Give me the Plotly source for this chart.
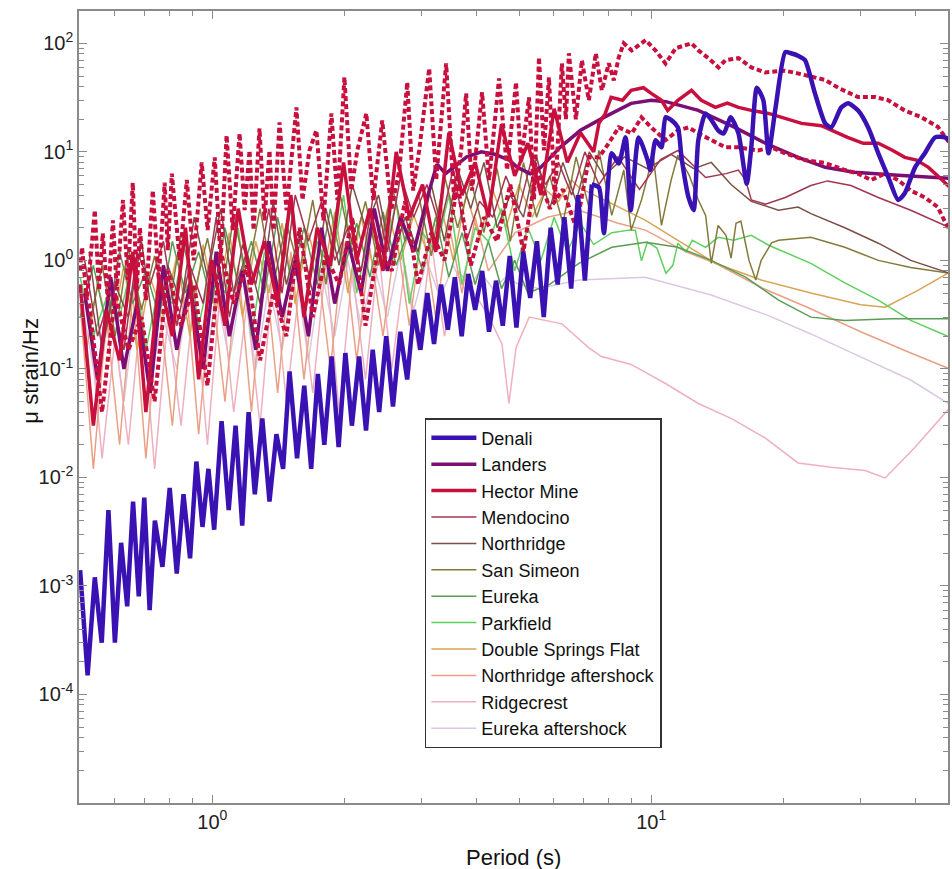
import plotly.graph_objects as go

# ---------------------------------------------------------------------------
# Period grids (s) used for the densely sampled short-period part of the spectra
GRID_1 = [0.500, 0.536, 0.574, 0.615, 0.659, 0.706, 0.757, 0.811, 0.869, 0.931,
          0.998, 1.069, 1.146, 1.228, 1.315, 1.409, 1.510, 1.618, 1.734, 1.858,
          1.991, 2.133, 2.286, 2.449, 2.624, 2.812, 3.013, 3.228, 3.459, 3.706,
          3.971, 4.255, 4.559, 4.885, 5.234, 5.608, 6.009, 6.438, 6.899, 7.392]
GRID_2 = [0.512, 0.548, 0.587, 0.629, 0.674, 0.722, 0.774, 0.830, 0.889, 0.953,
          1.021, 1.094, 1.172, 1.256, 1.346, 1.442, 1.545, 1.656, 1.774, 1.901,
          2.037, 2.183, 2.339, 2.506, 2.685, 2.877, 3.083, 3.303, 3.539, 3.792,
          4.063, 4.354, 4.665, 4.999, 5.356, 5.739, 6.149, 6.588, 7.059]
GRID_3 = [0.524, 0.561, 0.601, 0.644, 0.690, 0.739, 0.792, 0.849, 0.910, 0.975,
          1.045, 1.119, 1.199, 1.285, 1.377, 1.475, 1.581, 1.694, 1.815, 1.945,
          2.084, 2.234, 2.393, 2.564, 2.748, 2.944, 3.155, 3.380, 3.622, 3.881,
          4.158, 4.455, 4.774, 5.115, 5.481, 5.872, 6.292, 6.742, 7.224]

# ---------------------------------------------------------------------------
# Denali
DENALI_SHORT_P = [0.50, 0.52, 0.54, 0.56, 0.58, 0.60, 0.62, 0.64, 0.66, 0.68,
                  0.70, 0.72, 0.74, 0.77, 0.80, 0.83, 0.86, 0.89, 0.92, 0.95,
                  0.98, 1.01, 1.05, 1.09, 1.13, 1.17, 1.21, 1.25, 1.30, 1.35,
                  1.40, 1.45, 1.50, 1.56, 1.62, 1.68, 1.74, 1.80, 1.87, 1.94,
                  2.01, 2.08, 2.16, 2.24, 2.32, 2.40, 2.49, 2.58, 2.68, 2.78,
                  2.88, 2.98, 3.09, 3.20, 3.32, 3.44, 3.57, 3.70, 3.83, 3.97,
                  4.12, 4.27, 4.43, 4.59, 4.76, 4.93, 5.11, 5.30, 5.49, 5.69,
                  5.90, 6.12, 6.34, 6.57, 6.81, 7.06, 7.32]
DENALI_SHORT_V = [1.4e-3, 1.5e-4, 1.2e-3, 3.0e-4, 5.0e-3, 3.0e-4, 2.5e-3, 6.5e-4, 6.0e-3, 8.0e-4,
                  6.5e-3, 6.0e-4, 4.0e-3, 1.5e-3, 8.0e-3, 1.3e-3, 7.0e-3, 1.8e-3, 1.4e-2, 3.5e-3,
                  1.2e-2, 3.3e-3, 3.3e-2, 5.0e-3, 3.0e-2, 3.6e-3, 4.0e-2, 7.0e-3, 3.5e-2, 6.0e-3,
                  2.5e-2, 1.2e-2, 9.5e-2, 1.5e-2, 7.0e-2, 1.2e-2, 9.0e-2, 2.0e-2, 1.3e-1, 1.9e-2,
                  1.4e-1, 3.0e-2, 1.3e-1, 2.7e-2, 1.5e-1, 4.0e-2, 2.0e-1, 4.5e-2, 2.2e-1, 8.0e-2,
                  3.5e-1, 1.5e-1, 5.0e-1, 1.7e-1, 6.0e-1, 2.3e-1, 7.0e-1, 2.0e-1, 7.5e-1, 3.5e-1,
                  8.0e-1, 2.2e-1, 6.5e-1, 2.5e-1, 1.1, 2.4e-1, 1.2, 4.5e-1, 1.5, 3.0e-1,
                  2.0, 6.0e-1, 2.5, 5.5e-1, 4.0, 6.5e-1, 5.0]
DENALI_LONG_P = [7.6, 7.8, 8.13, 8.43, 8.74, 8.98, 9.36, 9.81, 9.95, 10.23,
                 10.55, 10.78, 11.13, 11.5, 11.72, 12.16, 12.49, 12.8, 13.3, 13.73,
                 14.2, 14.63, 15.17, 15.8, 16.5, 16.9, 17.4, 18.0, 18.5, 19.2,
                 20.2, 20.8, 21.6, 22.4, 23.6, 24.9, 25.7, 27.1, 28.1, 29.6,
                 31.2, 32.9, 34.7, 36.5, 37.8, 39.9, 42.0, 44.3, 46.7, 47.9]
DENALI_LONG_V = [4.7, 1.78, 9.7, 7.8, 13.6, 2.9, 13.6, 8.4, 6.8, 12.8,
                 11.0, 20.8, 19.5, 16.8, 8.9, 3.8, 2.9, 12.8, 22.6, 19.5,
                 15.8, 14.8, 20.8, 14.8, 5.1, 11.0, 39.0, 30.0, 9.7, 25.7,
                 83.0, 81.0, 77.0, 70.0, 34.6, 18.3, 16.8, 25.7, 28.0, 24.0,
                 16.8, 9.7, 5.8, 3.6, 4.15, 7.2, 9.7, 13.6, 13.6, 12.8]

# Landers
LANDERS_SHORT_V = [0.5, 0.08, 0.7, 0.1, 0.4, 0.06, 0.9, 0.15, 0.6, 0.1,
                   1.2, 0.2, 0.8, 0.15, 1.5, 0.3, 1.0, 0.2, 2.0, 0.4,
                   1.5, 0.5, 3.0, 0.8, 2.5, 1.2]
LANDERS_LONG_P = [3.1, 3.25, 3.4, 3.55, 3.8, 4.1, 4.4, 4.75, 4.95, 5.3, 5.6, 6.2, 6.9,
                  7.8, 9.0, 10.0, 10.8, 12.8, 15.5, 18.2, 21.6, 24.9, 29.0, 36.5, 47.9]
LANDERS_LONG_V = [4.0, 7.7, 6.3, 7.2, 9.0, 10.0, 9.5, 8.4, 7.2, 6.3, 7.2, 11.0, 15.8,
                  20.8, 28.0, 29.9, 29.0, 24.1, 16.8, 12.0, 8.9, 7.2, 6.5, 6.1, 5.7]

# Hector Mine (solid) and its upper / lower dotted bounds
HECTOR_SHORT_V = [0.6, 0.03, 0.35, 0.12, 1.2, 0.04, 0.7, 0.2, 2.0, 0.08,
                  1.0, 0.25, 3.0, 0.6, 1.5, 0.4, 4.0, 0.3, 2.0, 0.9,
                  8.0, 1.0, 3.0, 0.8, 10.0, 2.5, 5.0, 1.2, 15.0, 4.0,
                  8.0, 2.5, 18.0, 6.0, 12.0, 4.0, 25.0, 8.0, 15.0, 10.0]
HECTOR_LONG_P = [7.6, 7.85, 8.1, 8.6, 9.0, 9.6, 10.0, 10.55, 10.9, 11.5,
                 12.35, 13.0, 14.0, 14.9, 15.8, 16.9, 18.5, 20.2, 22.0, 24.4,
                 25.7, 28.0, 30.4, 32.9, 35.5, 37.8, 40.2, 42.8, 46.0, 47.9]
HECTOR_LONG_V = [18.3, 22.4, 31.8, 29.9, 36.9, 39.0, 34.6, 29.9, 24.1, 29.9,
                 36.9, 29.9, 25.7, 28.1, 25.7, 24.1, 22.6, 20.4, 18.3, 17.4,
                 15.8, 13.6, 12.0, 12.0, 10.3, 8.9, 8.4, 7.2, 5.5, 4.7]

HECTOR_UP_P = [0.50, 0.505, 0.518, 0.54, 0.552, 0.563, 0.578, 0.594, 0.606, 0.626,
               0.642, 0.659, 0.673, 0.684, 0.706, 0.732, 0.755, 0.779, 0.792, 0.809,
               0.843, 0.875, 0.907, 0.946, 0.976, 1.013, 1.045, 1.078, 1.113, 1.154,
               1.185, 1.216, 1.242, 1.281, 1.315, 1.35, 1.379, 1.423, 1.476, 1.555,
               1.605, 1.665, 1.727, 1.791, 1.868, 1.928, 2.0, 2.074, 2.14, 2.244,
               2.327, 2.439, 2.557, 2.667, 2.781, 2.869, 2.96, 3.12, 3.236, 3.41,
               3.556, 3.689, 3.787, 3.907, 4.117, 4.271, 4.501, 4.694, 4.92, 5.05,
               5.266, 5.406, 5.549, 5.696, 5.847, 6.033, 6.258, 6.391, 6.492, 6.734,
               6.949, 7.208, 7.477, 7.716, 8.004, 8.215, 8.433, 8.657, 9.027, 9.712,
               10.23, 10.78, 11.36, 12.35, 12.81, 13.5, 14.23, 14.76, 15.8, 16.9,
               18.18, 20.18, 22.41, 24.89, 26.65, 29.57, 32.32, 34.59, 37.82, 41.13,
               44.96, 47.86]
HECTOR_UP_V = [0.81, 1.32, 0.43, 2.9, 0.53, 1.78, 0.43, 2.34, 0.53, 3.6,
               0.66, 5.2, 0.53, 2.0, 0.43, 4.4, 0.66, 5.2, 1.24, 6.3,
               1.0, 5.5, 1.0, 8.0, 1.9, 8.9, 1.0, 14.2, 1.9, 14.8,
               2.9, 10.3, 1.9, 16.5, 2.34, 10.3, 1.9, 18.7, 2.9, 25.7,
               3.6, 10.3, 15.8, 2.34, 22.6, 3.6, 48.6, 4.4, 10.3, 22.6,
               3.6, 19.5, 2.9, 6.8, 43.7, 4.4, 10.3, 58.8, 5.5, 65.4,
               3.6, 10.3, 34.6, 4.4, 35.4, 5.5, 47.6, 6.8, 43.7, 8.0,
               31.8, 3.6, 74.3, 10.3, 48.6, 3.6, 65.4, 20.0, 80.9, 20.0,
               69.7, 29.9, 80.9, 36.9, 65.4, 45.6, 74.3, 100.0, 86.0, 107.0,
               86.0, 65.0, 90.0, 100.0, 86.0, 73.0, 60.0, 70.0, 73.0, 60.0,
               54.0, 56.0, 51.0, 46.0, 39.0, 32.0, 32.0, 30.0, 24.0, 21.0,
               17.0, 12.0]

HECTOR_LOW_SHORT_V = [0.4, 0.04, 0.5, 0.15, 0.3, 0.05, 0.8, 0.25, 0.6, 0.07,
                      1.2, 0.4, 0.9, 0.12, 0.5, 0.2, 2.0, 0.3, 1.1, 0.6,
                      2.5, 0.25, 1.4, 0.8, 3.5, 0.6, 1.8, 1.0, 5.0, 0.9,
                      2.5, 1.5, 5.0, 1.2, 7.0, 3.0, 4.5, 2.0, 9.0]
HECTOR_LOW_LONG_P = [7.6, 8.0, 8.43, 9.03, 9.5, 10.0, 10.78, 11.5, 12.16, 12.81,
                     13.73, 14.76, 15.8, 17.5, 18.8, 20.18, 22.41, 24.89, 27.6, 29.57,
                     31.7, 34.0, 36.5, 39.0, 42.0, 44.96, 46.5, 47.86]
HECTOR_LOW_LONG_V = [8.9, 12.0, 16.8, 14.8, 20.8, 16.8, 12.8, 15.8, 16.8, 14.8,
                     12.8, 11.0, 11.0, 10.3, 11.0, 9.7, 8.4, 7.9, 6.8, 6.3,
                     5.5, 6.3, 5.5, 4.4, 3.8, 3.1, 2.34, 1.9]

# Mendocino
MENDOCINO_SHORT_V = [1.0, 0.2, 0.5, 0.15, 1.2, 0.6, 1.5, 0.25, 0.9, 0.4,
                     2.5, 0.3, 1.4, 0.6, 3.0, 0.5, 4.0, 1.5, 3.5, 1.0,
                     2.0, 0.8, 4.5, 1.2, 6.0, 2.5, 5.0, 2.0, 7.0, 1.5,
                     3.5, 2.5, 6.0, 3.0, 9.0, 5.0, 8.0, 4.0, 10.0]
MENDOCINO_LONG_P = [7.6, 8.4, 9.4, 10.5, 11.5, 13.3, 14.8, 15.8, 16.4, 16.9,
                    18.2, 20.2, 23.1, 25.2, 28.5, 32.9, 39.0, 47.9]
MENDOCINO_LONG_V = [5.0, 9.0, 4.5, 8.5, 10.3, 5.8, 6.3, 6.8, 5.5, 3.6,
                    3.3, 3.8, 4.9, 5.4, 4.9, 3.8, 2.9, 2.0]

# Northridge
NORTHRIDGE_SHORT_V = [1.2, 0.15, 0.6, 0.3, 1.5, 0.2, 0.9, 0.4, 2.5, 0.7,
                      3.0, 0.5, 1.2, 0.4, 3.5, 0.6, 1.8, 0.5, 3.0, 0.9,
                      5.0, 2.0, 4.0, 1.0, 2.5, 1.2, 5.0, 1.5, 7.0, 3.0,
                      8.0, 2.0, 4.0, 2.5, 9.0, 3.0, 8.0, 3.5, 10.0]
NORTHRIDGE_LONG_P = [7.8, 8.7, 9.8, 11.1, 12.5, 13.7, 15.2, 16.9, 19.5, 21.6,
                     23.1, 27.6, 32.9, 39.0, 47.9]
NORTHRIDGE_LONG_V = [6.0, 9.0, 7.0, 9.5, 7.0, 8.0, 5.0, 3.5, 2.9, 3.1,
                     2.7, 2.0, 1.44, 1.0, 0.76]

# San Simeon
SAN_SIMEON_SHORT_V = [0.25, 0.9, 0.2, 1.3, 0.35, 1.1, 0.3, 1.8, 0.5, 1.6,
                      0.4, 2.6, 0.7, 3.0, 0.6, 2.2, 0.8, 3.6, 0.6, 4.5,
                      1.2, 3.5, 0.9, 5.0, 1.5, 4.2, 1.1, 6.0, 2.0, 5.5,
                      1.8, 7.0, 1.5, 8.0, 2.5, 6.0, 2.2, 9.0, 3.0]
SAN_SIMEON_LONG_P = [7.6, 8.13, 8.66, 9.0, 9.5, 10.1, 10.55, 11.1, 11.5, 12.2,
                     12.8, 13.3, 13.7, 14.2, 14.8, 15.2, 15.6, 16.0, 16.7, 17.3,
                     17.8, 18.8, 19.5, 23.1, 27.6, 32.9, 39.0, 47.9]
SAN_SIMEON_LONG_V = [10.3, 2.6, 6.8, 1.9, 3.6, 9.3, 2.1, 5.5, 9.3, 6.1,
                     3.6, 2.6, 0.94, 2.1, 1.7, 1.05, 2.2, 2.3, 1.0, 0.66,
                     1.0, 1.45, 1.53, 1.63, 1.32, 1.0, 0.86, 0.76]

# Eureka
EUREKA_SHORT_V = [0.3, 0.9, 0.25, 1.2, 0.4, 0.8, 0.3, 1.5, 0.5, 1.2,
                  0.4, 2.0, 0.6, 1.5, 0.5, 2.5, 0.7, 2.0, 0.6, 3.0,
                  0.8, 2.2, 0.7, 2.8, 0.9, 2.0, 0.8, 2.5, 0.7, 1.8,
                  0.6, 1.5, 0.55, 1.0, 0.5]
EUREKA_LONG_P = [5.87, 6.84, 8.13, 9.71, 11.5, 13.7, 16.4, 19.5, 23.1, 27.6, 35.3, 47.9]
EUREKA_LONG_V = [0.6, 0.94, 1.32, 1.47, 1.32, 1.0, 0.70, 0.43, 0.30, 0.28, 0.29, 0.29]

# Parkfield
PARKFIELD_SHORT_V = [0.7, 0.2, 0.45, 0.3, 1.0, 0.15, 0.6, 0.4, 1.5, 0.25,
                     0.9, 0.5, 2.0, 0.2, 1.2, 0.6, 3.0, 0.35, 1.5, 0.8,
                     4.0, 0.5, 2.0, 1.0, 3.5, 0.4, 1.8, 1.2, 4.0, 0.6,
                     2.0, 1.5, 3.0, 0.8, 2.0, 1.0, 2.5, 1.2, 2.2, 1.4]
PARKFIELD_LONG_P = [8.13, 8.9, 9.2, 9.5, 9.8, 10.3, 10.8, 11.2, 11.5, 12.0,
                    12.4, 13.3, 14.2, 15.4, 16.9, 18.5, 23.1, 27.6, 32.9, 39.0, 47.9]
PARKFIELD_LONG_V = [1.8, 1.9, 1.9, 0.99, 1.47, 1.3, 0.76, 0.9, 1.44, 1.2,
                    1.53, 1.32, 1.63, 1.53, 1.7, 1.38, 0.94, 0.62, 0.43, 0.28, 0.196]

# Double Springs Flat
DSF_SHORT_V = [0.12, 0.6, 0.2, 0.9, 0.15, 0.7, 0.3, 1.1, 0.2, 1.4,
               0.35, 1.8, 0.3, 1.5, 0.5, 2.2, 0.4, 1.8, 0.6, 2.8,
               0.5, 2.5, 0.8, 3.0, 1.0, 2.6, 1.2, 3.5, 1.0, 4.0,
               1.6, 4.5, 2.0, 5.0, 2.5, 4.5, 3.5, 5.5]
DSF_LONG_P = [6.84, 8.13, 9.71, 11.5, 14.0, 17.8, 23.1, 30.0, 34.1, 40.5, 47.9]
DSF_LONG_V = [4.7, 3.33, 2.34, 1.53, 0.94, 0.66, 0.50, 0.39, 0.37, 0.53, 0.78]

# Northridge aftershock
NR_AFTER_SHORT_V = [0.4, 0.012, 0.3, 0.02, 0.5, 0.015, 0.4, 0.03, 0.7, 0.025,
                    0.6, 0.05, 0.9, 0.04, 1.0, 0.06, 1.2, 0.08, 1.0, 0.1,
                    1.5, 0.12, 1.3, 0.2, 1.8, 0.25, 2.0, 0.3, 2.2, 0.5,
                    2.5, 0.8]
NR_AFTER_LONG_P = [4.9, 5.8, 6.84, 8.4, 9.7, 12.0, 14.0, 18.0, 23.0, 30.0, 39.0, 47.9]
NR_AFTER_LONG_V = [1.8, 2.5, 2.9, 2.2, 1.9, 1.2, 0.94, 0.55, 0.36, 0.22, 0.14, 0.10]

# Ridgecrest
RIDGECREST_SHORT_V = [0.3, 0.015, 0.2, 0.02, 0.4, 0.012, 0.3, 0.03, 0.5, 0.02,
                      0.6, 0.04, 0.4, 0.03, 0.8, 0.05, 0.6, 0.06, 1.0, 0.04,
                      0.8, 0.08, 1.2, 0.1, 0.9, 0.15, 1.5, 0.2, 0.8]
RIDGECREST_LONG_P = [3.84, 4.27, 4.57, 4.74, 4.92, 5.27, 6.26, 7.2, 7.7, 9.0,
                     10.8, 12.8, 15.2, 18.2, 21.6, 25.7, 30.7, 34.1, 39.9, 47.9]
RIDGECREST_LONG_V = [0.61, 0.30, 0.17, 0.048, 0.157, 0.30, 0.26, 0.157, 0.13, 0.11,
                     0.073, 0.048, 0.035, 0.023, 0.0136, 0.0124, 0.0116, 0.0099, 0.019, 0.044]

# Eureka aftershock
EU_AFTER_SHORT_V = [0.3, 0.06, 0.4, 0.05, 0.5, 0.08, 0.3, 0.1, 0.6, 0.07,
                    0.5, 0.12, 0.7, 0.1, 0.6, 0.15, 0.9, 0.12, 0.8, 0.2,
                    1.0, 0.25, 0.9, 0.3, 1.2, 0.35, 1.0, 0.45, 0.9, 0.5,
                    0.8, 0.55, 0.7, 0.6]
EU_AFTER_LONG_P = [5.55, 6.84, 9.7, 13.7, 18.5, 23.1, 31.2, 39.0, 47.9]
EU_AFTER_LONG_V = [0.55, 0.66, 0.70, 0.48, 0.31, 0.21, 0.12, 0.079, 0.047]

# Axis ticks
X_MAJOR = [1, 10]
X_MAJOR_TEXT = ["10<sup>0</sup>", "10<sup>1</sup>"]
X_MINOR = [0.6, 0.7, 0.8, 0.9, 2, 3, 4, 5, 6, 7, 8, 9, 20, 30, 40]
Y_MAJOR = [1e-4, 1e-3, 1e-2, 1e-1, 1, 10, 100]
Y_MAJOR_TEXT = ["10<sup>-4</sup>", "10<sup>-3</sup>", "10<sup>-2</sup>", "10<sup>-1</sup>",
                "10<sup>0</sup>", "10<sup>1</sup>", "10<sup>2</sup>"]
Y_MINOR = [m * 10.0 ** e for e in range(-5, 3) for m in range(2, 10)]

FONT = "Liberation Sans, Arial, Helvetica, sans-serif"


def joined(grid, short_v, long_p, long_v):
    """Short-period samples on a grid followed by the long-period samples."""
    return list(grid[:len(short_v)]) + list(long_p), list(short_v) + list(long_v)


fig = go.Figure()

# thin spectra: (name, grid, short values, long periods, long values, colour, legend rank)
thin = [
    ("Eureka aftershock", GRID_2, EU_AFTER_SHORT_V, EU_AFTER_LONG_P, EU_AFTER_LONG_V, "#d9c8de", 12),
    ("Ridgecrest", GRID_3, RIDGECREST_SHORT_V, RIDGECREST_LONG_P, RIDGECREST_LONG_V, "#eeb0c0", 11),
    ("Northridge aftershock", GRID_1, NR_AFTER_SHORT_V, NR_AFTER_LONG_P, NR_AFTER_LONG_V, "#e9a084", 10),
    ("Double Springs Flat", GRID_2, DSF_SHORT_V, DSF_LONG_P, DSF_LONG_V, "#d9a456", 9),
    ("Parkfield", GRID_1, PARKFIELD_SHORT_V, PARKFIELD_LONG_P, PARKFIELD_LONG_V, "#5fcf5f", 8),
    ("Eureka", GRID_1, EUREKA_SHORT_V, EUREKA_LONG_P, EUREKA_LONG_V, "#5a9c55", 7),
    ("San Simeon", GRID_3, SAN_SIMEON_SHORT_V, SAN_SIMEON_LONG_P, SAN_SIMEON_LONG_V, "#837a3a", 6),
    ("Northridge", GRID_3, NORTHRIDGE_SHORT_V, NORTHRIDGE_LONG_P, NORTHRIDGE_LONG_V, "#7b5046", 5),
    ("Mendocino", GRID_2, MENDOCINO_SHORT_V, MENDOCINO_LONG_P, MENDOCINO_LONG_V, "#a2354f", 4),
]
for name, grid, sv, lp, lv, color, rank in thin:
    px, py = joined(grid, sv, lp, lv)
    fig.add_trace(go.Scatter(x=px, y=py, mode="lines", name=name, legendrank=rank,
                             line=dict(color=color, width=1.5)))

# Landers
px, py = joined(GRID_2, LANDERS_SHORT_V, LANDERS_LONG_P, LANDERS_LONG_V)
fig.add_trace(go.Scatter(x=px, y=py, mode="lines", name="Landers", legendrank=2,
                         line=dict(color="#7c0d74", width=3.5)))

# Hector Mine: solid spectrum plus dotted bounds
HECTOR_COLOR = "#c8103e"
px, py = joined(GRID_1, HECTOR_SHORT_V, HECTOR_LONG_P, HECTOR_LONG_V)
fig.add_trace(go.Scatter(x=px, y=py, mode="lines", name="Hector Mine", legendrank=3,
                         legendgroup="hector", line=dict(color=HECTOR_COLOR, width=3.5)))
fig.add_trace(go.Scatter(x=HECTOR_UP_P, y=HECTOR_UP_V, mode="lines", showlegend=False,
                         legendgroup="hector",
                         line=dict(color=HECTOR_COLOR, width=4, dash="5px,3px")))
px, py = joined(GRID_3, HECTOR_LOW_SHORT_V, HECTOR_LOW_LONG_P, HECTOR_LOW_LONG_V)
fig.add_trace(go.Scatter(x=px, y=py, mode="lines", showlegend=False, legendgroup="hector",
                         line=dict(color=HECTOR_COLOR, width=4, dash="5px,3px")))

# Denali: jagged short-period part and smooth long-period part
DENALI_COLOR = "#3a12b4"
fig.add_trace(go.Scatter(x=DENALI_SHORT_P, y=DENALI_SHORT_V, mode="lines", name="Denali",
                         legendrank=1, legendgroup="denali",
                         line=dict(color=DENALI_COLOR, width=4.5)))
fig.add_trace(go.Scatter(x=[DENALI_SHORT_P[-1]] + DENALI_LONG_P,
                         y=[DENALI_SHORT_V[-1]] + DENALI_LONG_V, mode="lines",
                         showlegend=False, legendgroup="denali",
                         line=dict(color=DENALI_COLOR, width=4.5, shape="spline", smoothing=0.6)))

axis_common = dict(
    type="log", showgrid=False, zeroline=False, showline=True,
    linecolor="#8a8a8a", linewidth=1.5, mirror="ticks",
    ticks="inside", ticklen=8, tickwidth=1.2, tickcolor="#8a8a8a",
    tickfont=dict(family=FONT, size=20, color="#222222"),
)

fig.update_layout(
    width=952, height=869,
    margin=dict(l=79, r=2, t=11, b=66),
    paper_bgcolor="white", plot_bgcolor="white",
    font=dict(family=FONT, color="#222222"),
    xaxis=dict(range=[-0.3036, 1.676], tickmode="array", tickvals=X_MAJOR,
               ticktext=X_MAJOR_TEXT,
               minor=dict(tickvals=X_MINOR, ticks="inside", ticklen=5,
                          tickcolor="#8a8a8a", showgrid=False),
               **axis_common),
    yaxis=dict(range=[-5.0, 2.298], tickmode="array", tickvals=Y_MAJOR,
               ticktext=Y_MAJOR_TEXT,
               minor=dict(tickvals=Y_MINOR, ticks="inside", ticklen=5,
                          tickcolor="#8a8a8a", showgrid=False),
               **axis_common),
    legend=dict(x=0.398, y=0.486, xanchor="left", yanchor="top",
                bgcolor="white", bordercolor="#333333", borderwidth=1.5,
                font=dict(family=FONT, size=18, color="#111111"),
                itemwidth=45, tracegroupgap=0),
    showlegend=True,
    annotations=[
        dict(text="Period (s)", xref="paper", yref="paper", x=0.5, y=-0.0686,
             xanchor="center", yanchor="middle", showarrow=False,
             font=dict(family=FONT, size=22, color="#111111")),
        dict(text="μ strain/Hz", xref="paper", yref="paper", x=-0.0563, y=0.546,
             xanchor="center", yanchor="middle", showarrow=False, textangle=-90,
             font=dict(family=FONT, size=22, color="#111111")),
    ],
)

fig.write_html("out.html")
